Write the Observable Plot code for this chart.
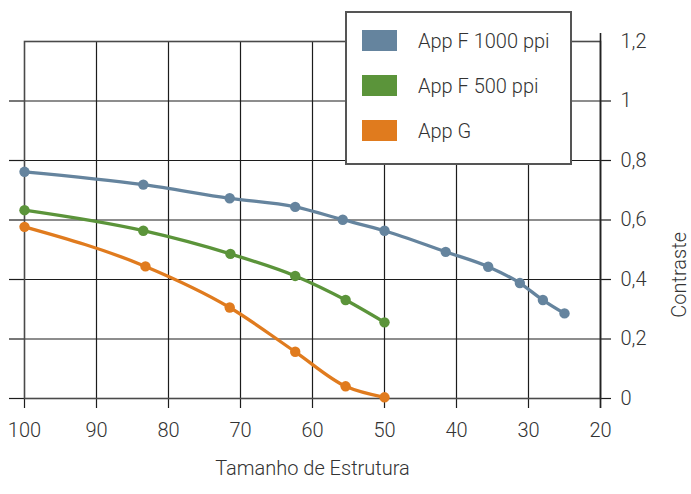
<!DOCTYPE html>
<html><head><meta charset="utf-8">
<script src="https://cdn.jsdelivr.net/npm/d3@7"></script>
<script src="https://cdn.jsdelivr.net/npm/@observablehq/plot@0.6"></script>
<style>
body{margin:0;background:#fff;}
#wrap{position:relative;width:691px;height:494px;font-family:Roboto,"Liberation Sans",sans-serif;font-weight:300;}
#legend{position:absolute;left:345px;top:11px;width:223px;height:150px;border:2px solid #555;background:#fff;}
.item{position:absolute;left:15px;height:21px;display:flex;align-items:center;white-space:nowrap;}
.sw{width:35px;height:21px;}
.lab{margin-left:21px;font-size:20px;color:#333;}
</style></head><body><div id="wrap"><div id="chart"></div><div id="legend"></div></div>
<script>
const series = ["App F 1000 ppi", "App F 500 ppi", "App G"];
const colors = ["#65849e", "#5b943a", "#e07b1e"];
const sizeF1000 = [100, 83.5, 71.5, 62.4, 55.8, 50, 41.5, 35.6, 31.2, 28, 25];
const contrastF1000 = [0.762, 0.719, 0.673, 0.644, 0.601, 0.564, 0.493, 0.443, 0.388, 0.331, 0.286];
const sizeF500 = [100, 83.5, 71.4, 62.4, 55.4, 50];
const contrastF500 = [0.633, 0.564, 0.486, 0.412, 0.331, 0.256];
const sizeG = [100, 83.2, 71.5, 62.4, 55.4, 50];
const contrastG = [0.577, 0.444, 0.306, 0.157, 0.041, 0.004];
const xTicks = [100, 90, 80, 70, 60, 50, 40, 30, 20];
const yTicks = [0, 0.2, 0.4, 0.6, 0.8, 1, 1.2];
const xLabel = "Tamanho de Estrutura";
const yLabel = "Contraste";

const sizes = [sizeF1000, sizeF500, sizeG];
const contrasts = [contrastF1000, contrastF500, contrastG];
const data = [];
series.forEach((s, i) => sizes[i].forEach((x, j) => data.push({series: s, size: x, contrast: contrasts[i][j]})));

const gridColor = "#1c1c1c";
const fmt = d => String(d).replace(".", ",");

const chart = Plot.plot({
  width: 691,
  height: 494,
  marginLeft: 24,
  marginRight: 91,
  marginTop: 41,
  marginBottom: 96,
  style: {fontFamily: "Roboto, 'Liberation Sans', sans-serif", fontSize: "20px", fontWeight: 300, color: "#333", background: "#fff"},
  x: {domain: [100, 20]},
  y: {domain: [0, 1.2]},
  color: {domain: series, range: colors},
  marks: [
    Plot.gridY(yTicks.slice(1, 6), {stroke: gridColor, strokeOpacity: 1, strokeWidth: 1.2}),
    Plot.gridX(xTicks.slice(1, 8), {stroke: gridColor, strokeOpacity: 1, strokeWidth: 1.2}),
    Plot.axisY(yTicks.slice(0, 6), {anchor: "left", tickSize: 15, tickFormat: () => "", label: null, stroke: gridColor, strokeWidth: 1.2}),
    Plot.axisY(yTicks.slice(0, 6), {anchor: "right", tickSize: 10, tickFormat: () => "", label: null, stroke: gridColor, strokeWidth: 1.2}),
    Plot.axisY(yTicks, {anchor: "right", tickSize: 0, tickPadding: 20, tickFormat: fmt, label: null, fontSize: 20}),
    Plot.text([yLabel], {text: d => d, frameAnchor: "right", rotate: -90, dx: 79, dy: 12, fontSize: 20, fill: "#333"}),
    Plot.axisX(xTicks, {anchor: "bottom", tickSize: 10, tickPadding: 14, tickFormat: d => String(d), label: xLabel, labelArrow: "none", labelAnchor: "center", labelOffset: 76, stroke: gridColor, strokeWidth: 1.2}),
    Plot.frame({stroke: "#4a4a4a", strokeWidth: 1.6}),
    Plot.ruleX([20], {insetTop: -8, insetBottom: -10, stroke: "#222", strokeWidth: 1.6}),
    Plot.line(data, {x: "size", y: "contrast", z: "series", stroke: "series", strokeWidth: 3.3, curve: "monotone-x"}),
    Plot.dot(data, {x: "size", y: "contrast", fill: "series", r: 5.2})
  ]
});
document.getElementById("chart").appendChild(chart);

const legend = document.getElementById("legend");
const rowTops = [17, 62, 107];
series.forEach((s, i) => {
  const item = document.createElement("div");
  item.className = "item";
  item.style.top = rowTops[i] + "px";
  item.innerHTML = `<div class="sw" style="background:${colors[i]}"></div><div class="lab">${s}</div>`;
  legend.appendChild(item);
});
</script></body></html>
